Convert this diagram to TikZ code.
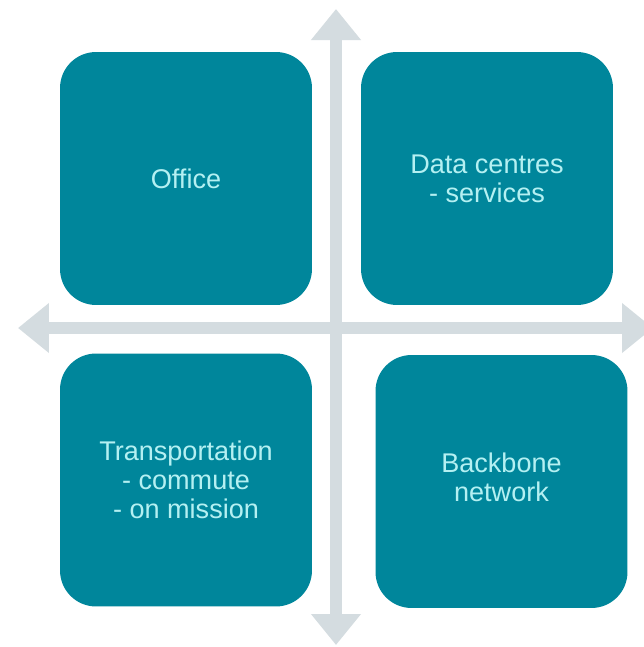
\documentclass[tikz,border=0pt]{standalone}
\usepackage{fontspec}
\setmainfont{Liberation Sans}
\usetikzlibrary{arrows.meta}

\definecolor{quadfill}{RGB}{0,134,155}
\definecolor{quadtext}{RGB}{180,240,242}
\definecolor{axisgray}{RGB}{212,220,224}

\begin{document}
\begin{tikzpicture}[
	x=0.02cm, y=-0.02cm,
	quad/.style={rectangle, rounded corners=0.72cm, fill=quadfill, text=quadtext,
		minimum width=5.04cm, minimum height=5.06cm, inner sep=0pt, align=center,
		font=\fontsize{15.4}{16.4}\selectfont},
	axis/.style={draw=axisgray, line width=0.24cm, <->},
	>={Triangle[width=0.96cm,length=0.62cm]}
	]
	
	%-----------------------
	% Canvas
	%-----------------------
	\useasboundingbox (0,0) rectangle (644,647);
	\fill[white] (0,0) rectangle (644,647);
	
	%-----------------------
	% Axis end points
	%-----------------------
	\coordinate (axis-top)    at (336,9);
	\coordinate (axis-bottom) at (336,645);
	\coordinate (axis-left)   at (18,328);
	\coordinate (axis-right)  at (653,328);
	
	%-----------------------
	% Quadrants
	%-----------------------
	\node[quad] (office)    at (186,178.5) {Office};
	\node[quad] (datactr)   at (487,178.5) {Data centres\\- services};
	\node[quad] (transport) at (186,480)   {Transportation\\- commute\\- on mission};
	\node[quad] (backbone)  at (501.5,481.5) {\raisebox{0.14cm}{\begin{tabular}{@{}c@{}}Backbone\\network\end{tabular}}};
	
	%-----------------------
	% Axes (right tip runs off the page)
	%-----------------------
	\begin{scope}
		\clip (0,0) rectangle (644,647);
		\draw[axis] (axis-bottom) -- (axis-top);
		\draw[axis] (axis-left) -- (axis-right);
	\end{scope}
	
\end{tikzpicture}
\end{document}
